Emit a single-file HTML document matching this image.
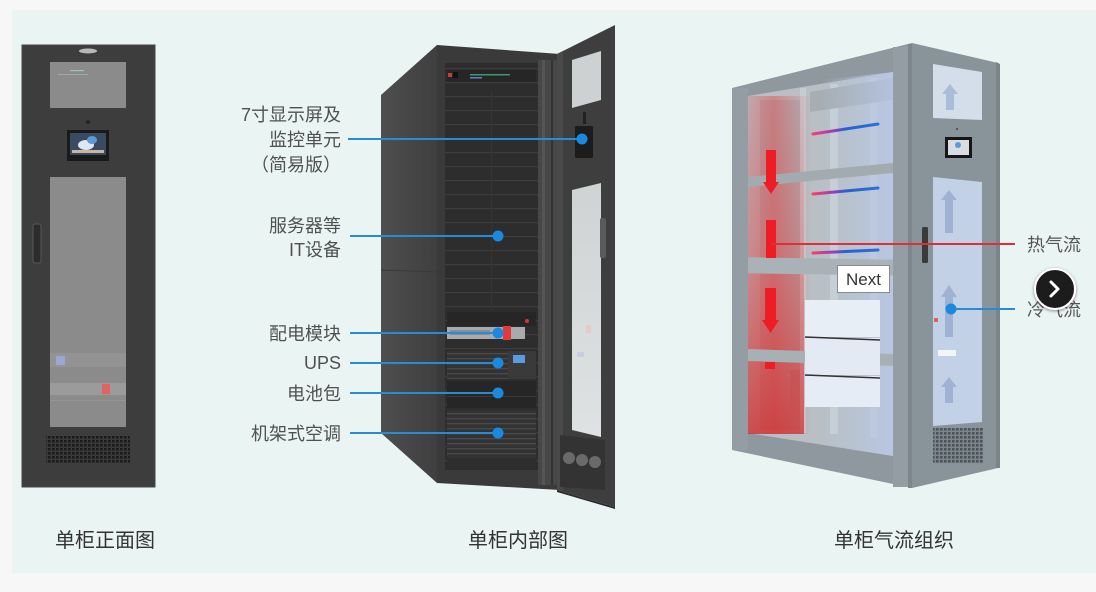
<!DOCTYPE html>
<html><head><meta charset="utf-8">
<style>
html,body{margin:0;padding:0;background:#f7f7f7;width:1096px;height:592px;overflow:hidden}
svg{display:block}
text{font-family:"Liberation Sans","Noto Sans CJK SC",sans-serif}
</style></head><body>
<svg width="1096" height="592" viewBox="0 0 1096 592" xmlns="http://www.w3.org/2000/svg">
<defs>
 <pattern id="vent" width="4" height="4" patternUnits="userSpaceOnUse"><rect width="4" height="4" fill="#3a3a3a"/><rect width="2.6" height="2.6" fill="#1b1b1b"/></pattern>
 <pattern id="vent2" width="4" height="4" patternUnits="userSpaceOnUse"><rect width="4" height="4" fill="#7c868c"/><rect width="2.6" height="2.6" fill="#4c5459"/></pattern>
 <pattern id="rows" width="10" height="14" patternUnits="userSpaceOnUse"><rect width="10" height="14" fill="#2d2d2d"/><rect y="12" width="10" height="1.2" fill="#3c3c3c"/></pattern>
 <pattern id="grille" width="10" height="5" patternUnits="userSpaceOnUse"><rect width="10" height="5" fill="#333"/><rect y="3" width="10" height="1.3" fill="#4a4a4a"/></pattern>
 <linearGradient id="side" x1="0" x2="1"><stop offset="0" stop-color="#4e4e4e"/><stop offset="1" stop-color="#3f3f3f"/></linearGradient>
 <linearGradient id="glassL" x1="0" x2="0" y1="0" y2="1"><stop offset="0" stop-color="#cfd3d3"/><stop offset="1" stop-color="#dfe2e2"/></linearGradient>
 <linearGradient id="redH" x1="0" x2="1"><stop offset="0" stop-color="#e83a3a" stop-opacity="0.18"/><stop offset="0.4" stop-color="#ee3030" stop-opacity="0.4"/><stop offset="1" stop-color="#ee3030" stop-opacity="0"/></linearGradient>
 <linearGradient id="redV" x1="0" x2="0" y1="0" y2="1"><stop offset="0" stop-color="#e03030" stop-opacity="0"/><stop offset="0.5" stop-color="#e03030" stop-opacity="0.25"/><stop offset="1" stop-color="#d02828" stop-opacity="0.7"/></linearGradient>
 <linearGradient id="blueTint" x1="0" x2="1"><stop offset="0" stop-color="#b8c8ea" stop-opacity="0"/><stop offset="1" stop-color="#b8c8ea" stop-opacity="0.75"/></linearGradient>
 <linearGradient id="streak" x1="0" x2="1"><stop offset="0" stop-color="#ff3a6a"/><stop offset="0.35" stop-color="#8a40c0"/><stop offset="0.5" stop-color="#2a60d0"/><stop offset="1" stop-color="#2a70d8"/></linearGradient>
 <filter id="sh" x="-50%" y="-50%" width="200%" height="200%"><feDropShadow dx="0" dy="1" stdDeviation="1.5" flood-color="#000" flood-opacity="0.45"/></filter>
</defs>

<!-- panel -->
<rect x="12" y="10" width="1084" height="563" fill="#eaf4f2"/>

<!-- ============ LEFT CABINET ============ -->
<rect x="22" y="45" width="133" height="442" fill="#3d3d3d"/>
<rect x="22" y="45" width="133" height="442" fill="none" stroke="#454545" stroke-width="1"/>
<ellipse cx="88" cy="51" rx="9" ry="2.5" fill="#b8b8b8"/>
<rect x="50" y="62" width="76" height="46" fill="#8b8b8b"/>
<rect x="70" y="70" width="14" height="1.2" fill="#9fc8a0"/>
<rect x="58" y="74" width="30" height="1" fill="#a0a8b0"/>
<circle cx="88" cy="122" r="2" fill="#222"/>
<rect x="67" y="130" width="42" height="31" fill="#1a1a1a"/>
<rect x="70" y="133" width="36" height="22" fill="#3a4a60"/>
<ellipse cx="86" cy="145" rx="8" ry="5" fill="#dfe8f2"/>
<ellipse cx="92" cy="140" rx="5" ry="4" fill="#5a9ad8"/>
<rect x="72" y="150" width="32" height="3" fill="#c9b8a0"/>
<rect x="50" y="177" width="76" height="250" fill="#8b8b8b"/>
<rect x="50" y="353" width="76" height="14" fill="#939393"/>
<rect x="56" y="356" width="9" height="9" fill="#9ba6d6"/>
<rect x="50" y="383" width="76" height="12" fill="#9b9b9b"/>
<rect x="102" y="384" width="8" height="10" fill="#e26262"/>
<rect x="50" y="400" width="76" height="1" fill="#959595"/>
<rect x="33" y="224" width="8" height="39" rx="2" fill="#2c2c2c" stroke="#575757" stroke-width="1"/>
<rect x="46" y="436" width="84" height="27" fill="url(#vent)"/>

<!-- ============ MIDDLE CABINET ============ -->
<polygon points="381,95 437,45 437,483 381,433" fill="url(#side)"/>
<line x1="381" y1="270" x2="437" y2="272" stroke="#3a3a3a" stroke-width="1"/>
<polygon points="437,45 560,54 560,490 437,483" fill="#3a3a3a"/>
<rect x="445" y="63" width="93" height="407" fill="url(#rows)"/>
<rect x="491" y="90" width="1" height="220" fill="#353535"/>
<rect x="538" y="60" width="19" height="425" fill="#474747"/>
<rect x="542" y="60" width="3" height="425" fill="#555"/>
<rect x="551" y="60" width="2" height="425" fill="#333"/>
<rect x="447" y="70" width="89" height="12" fill="#262626"/>
<rect x="448" y="73" width="4" height="4" fill="#c04040"/>
<rect x="453" y="72" width="5" height="6" fill="#111"/>
<rect x="470" y="74" width="40" height="1.5" fill="#3a9a70"/>
<rect x="470" y="77" width="12" height="1.5" fill="#6080c0"/>
<rect x="447" y="312" width="89" height="14" fill="#262626"/>
<circle cx="527" cy="321" r="2" fill="#e03030"/>
<rect x="447" y="327" width="78" height="12" fill="#a7abad"/>
<rect x="503" y="326" width="8" height="14" fill="#e23a3a"/>
<rect x="450" y="330" width="40" height="5" fill="#8a8e90"/>
<rect x="447" y="351" width="89" height="28" fill="url(#grille)"/>
<rect x="508" y="351" width="28" height="28" fill="#3a3a3a"/>
<rect x="513" y="355" width="12" height="8" fill="#5a9ae0"/>
<rect x="447" y="381" width="89" height="27" fill="#262626"/>
<rect x="447" y="396" width="89" height="1" fill="#3a3a3a"/>
<rect x="447" y="410" width="89" height="48" fill="url(#grille)"/>
<rect x="447" y="458" width="89" height="10" fill="#2e2e2e"/>
<!-- door -->
<polygon points="557,54 615,25 615,507 557,490" fill="#3e3e3e"/>
<polygon points="557,54 563,51 563,492 557,490" fill="#4a4a4a"/>
<polygon points="572,60 601,51 601,100 572,108" fill="#cdd1d1"/>
<rect x="583" y="112" width="3" height="12" fill="#222"/>
<rect x="575" y="126" width="18" height="32" rx="1" fill="#1c1c1c"/>
<polygon points="572,190 601,183 601,437 572,430" fill="url(#glassL)"/>
<rect x="586" y="325" width="5" height="8" fill="#e9c8c8"/>
<rect x="577" y="352" width="7" height="5" fill="#c8cce6"/>
<rect x="600" y="218" width="6" height="40" rx="2" fill="#5a5a5a"/>
<polygon points="560,435 605,440 605,490 560,487" fill="#333"/>
<circle cx="569" cy="458" r="6" fill="#6a6a6a"/>
<circle cx="582" cy="460" r="6" fill="#6a6a6a"/>
<circle cx="595" cy="462" r="6" fill="#6a6a6a"/>
<polygon points="557,490 615,507 615,509 557,492" fill="#2c2c2c"/>

<g stroke="#2a8ad4" stroke-width="2">
 <line x1="348" y1="139" x2="582" y2="139"/>
 <line x1="350" y1="236" x2="498" y2="236"/>
 <line x1="350" y1="333" x2="498" y2="333"/>
 <line x1="350" y1="363" x2="498" y2="363"/>
 <line x1="350" y1="393" x2="498" y2="393"/>
 <line x1="350" y1="433" x2="498" y2="433"/>
</g>
<g fill="#1a8ae0">
 <circle cx="582" cy="139" r="5.5"/>
 <circle cx="498" cy="236" r="5.5"/>
 <circle cx="498" cy="333" r="5.5"/>
 <circle cx="498" cy="363" r="5.5"/>
 <circle cx="498" cy="393" r="5.5"/>
 <circle cx="498" cy="433" r="5.5"/>
</g>
<g font-size="18" fill="#505050" text-anchor="end">
 <text x="341" y="121">7寸显示屏及</text>
 <text x="341" y="146">监控单元</text>
 <text x="341" y="171">（简易版）</text>
 <text x="341" y="232">服务器等</text>
 <text x="341" y="256">IT设备</text>
 <text x="341" y="340">配电模块</text>
 <text x="341" y="369">UPS</text>
 <text x="341" y="400">电池包</text>
 <text x="341" y="440">机架式空调</text>
</g>

<!-- ============ RIGHT CABINET ============ -->
<polygon points="732,88 912,43 912,488 732,450" fill="#8f989e"/>
<polygon points="748,96 893,72 893,456 748,433" fill="#b8c0c5"/>
<rect x="760" y="100" width="40" height="330" fill="#abb3b8"/>
<rect x="800" y="88" width="6" height="345" fill="#c6cdd1"/>
<rect x="830" y="84" width="8" height="350" fill="#c8cfd3"/>
<rect x="870" y="78" width="7" height="360" fill="#c3cace"/>
<polygon points="810,92 893,78 893,100 810,112" fill="#a6aeb3"/>
<polygon points="820,80 893,72 893,456 820,445" fill="url(#blueTint)"/>
<rect x="748" y="96" width="64" height="338" fill="url(#redH)"/>
<rect x="748" y="96" width="56" height="338" fill="url(#redV)"/>
<polygon points="748,177 893,163 893,173 748,187" fill="#a2abb0"/>
<polygon points="732,257 912,260 912,276 732,273" fill="#a9b2b7"/>
<polygon points="748,349 893,354 893,366 748,361" fill="#a7b0b5"/>
<rect x="805" y="300" width="75" height="37" fill="#e8eef6"/>
<rect x="805" y="338" width="75" height="37" fill="#e3eaf4"/>
<rect x="805" y="376" width="75" height="31" fill="#e6ecf5"/>
<line x1="805" y1="337" x2="880" y2="340" stroke="#333" stroke-width="1.5"/>
<line x1="805" y1="375" x2="880" y2="378" stroke="#333" stroke-width="1.5"/>
<rect x="790" y="370" width="10" height="50" fill="#c85050" opacity="0.6"/>
<g stroke="url(#streak)" stroke-width="3" stroke-linecap="round">
 <line x1="813" y1="134" x2="878" y2="124"/>
 <line x1="813" y1="194" x2="878" y2="188"/>
 <line x1="813" y1="253" x2="878" y2="250"/>
</g>
<g fill="#ee1c24">
 <rect x="766" y="150" width="10" height="33"/>
 <polygon points="763,182 779,182 771,194"/>
 <rect x="766" y="220" width="10" height="38"/>
 <rect x="765" y="288" width="11" height="33"/>
 <polygon points="762,320 779,320 770.5,333"/>
 <rect x="765" y="362" width="10" height="7"/>
</g>
<rect x="893" y="47" width="19" height="440" fill="#949da3"/>
<rect x="908" y="44" width="4" height="444" fill="#7d868c"/>
<rect x="732" y="88" width="16" height="362" fill="#949da3"/>
<polygon points="912,43 998,63 998,468 912,488" fill="#89939a"/>
<polygon points="996,62 1000,64 1000,468 996,468" fill="#7a848a"/>
<polygon points="933,64 982,72 982,120 933,118" fill="#d4deea"/>
<polygon points="950,84 958,94 954,94 954,110 946,110 946,94 942,94" fill="#a9bcd8"/>
<circle cx="957" cy="129" r="1" fill="#444"/>
<rect x="945" y="137" width="27" height="21" fill="#161616"/>
<rect x="948" y="140" width="21" height="15" fill="#d9dde2"/>
<circle cx="958" cy="145" r="3" fill="#5a9ad8"/>
<polygon points="933,177 982,182 982,422 933,426" fill="#c3d1e6"/>
<g fill="#9fb2d4">
 <polygon points="949,190 957,200 953,200 953,233 945,233 945,200 941,200"/>
 <polygon points="949,285 957,297 953,297 953,337 945,337 945,297 941,297"/>
 <polygon points="949,377 957,387 953,387 953,403 945,403 945,387 941,387"/>
</g>
<rect x="938" y="350" width="18" height="6" fill="#f2f4f8"/>
<rect x="934" y="318" width="4" height="4" fill="#e06060"/>
<rect x="922" y="227" width="6" height="36" rx="1.5" fill="#3a3a3a"/>
<rect x="933" y="428" width="50" height="35" fill="url(#vent2)"/>

<line x1="771" y1="244" x2="1015" y2="244" stroke="#d9303c" stroke-width="2"/>
<line x1="951" y1="309" x2="1015" y2="309" stroke="#2a8ad4" stroke-width="2"/>
<circle cx="951" cy="309" r="5.5" fill="#1a8ae0"/>
<g font-size="18" fill="#555">
 <text x="1027" y="251">热气流</text>
 <text x="1027" y="316">冷气流</text>
</g>

<g font-size="20" fill="#333" text-anchor="middle">
 <text x="105" y="547">单柜正面图</text>
 <text x="518" y="547">单柜内部图</text>
 <text x="894" y="547">单柜气流组织</text>
</g>

<rect x="837.5" y="265.5" width="52" height="27" fill="#fff" stroke="#8a8a8a" stroke-width="1"/>
<text x="863.5" y="285" font-size="17" fill="#333" text-anchor="middle">Next</text>

<circle cx="1055" cy="289" r="20" fill="#1e1e1e" stroke="#ffffff" stroke-width="2" filter="url(#sh)"/>
<polyline points="1051,282 1058,289 1051,296" fill="none" stroke="#fff" stroke-width="3" stroke-linecap="round" stroke-linejoin="round"/>
</svg>
</body></html>
